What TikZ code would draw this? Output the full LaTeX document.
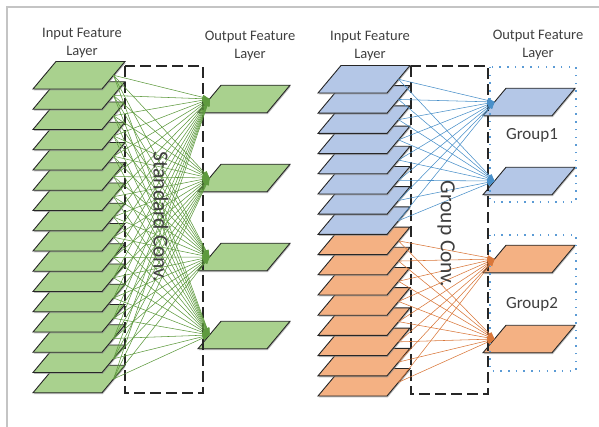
\documentclass[tikz,border=0pt]{standalone}
\usepackage{fontspec}
\setmainfont{Carlito}
\usetikzlibrary{arrows.meta}
\definecolor{lgreen}{HTML}{A9D18E}
\definecolor{lblue}{HTML}{B4C7E7}
\definecolor{lorange}{HTML}{F4B183}
\definecolor{gline}{HTML}{5E9A3E}
\definecolor{bline}{HTML}{4A90C9}
\definecolor{oline}{HTML}{D9773A}
\definecolor{edgec}{HTML}{262626}
\definecolor{txtc}{HTML}{3F3F3F}
\definecolor{framec}{HTML}{C4C4C4}
\definecolor{dotc}{HTML}{5B9BD5}
% one feature layer: name, centre x, centre y, fill colour
\newcommand\featlayer[4]{%
  \fill[layershadow] ({#2-45.3},{#3+15.2}) -- ++(69,0) -- ++(23,-27.5) -- ++(-69,0) -- cycle;
  \draw[layeredge, fill=#4] ({#2-46},{#3+13.75}) -- ++(69,0) -- ++(23,-27.5) -- ++(-69,0) -- cycle;
  \coordinate (#1-r) at ({#2+34.5},#3);
  \coordinate (#1-l) at ({#2-34.5},#3);
}
\begin{document}
\begin{tikzpicture}[x=1pt,y=-1pt,
  layeredge/.style={draw=edgec, line width=0.9pt, line join=miter},
  layershadow/.style={fill=black!45, opacity=0.6},
  convbox/.style={draw=edgec, line width=1.8pt, dash pattern=on 11pt off 5pt},
  groupbox/.style={draw=dotc, line width=1.5pt, dash pattern=on 1.5pt off 6.2pt},
  conn/.style={line width=0.55pt, -{Triangle[length=7pt,width=5pt]}},
  title/.style={text=txtc, font=\fontsize{14.5}{18}\selectfont, align=center},
  convlabel/.style={text=txtc, font=\fontsize{21.5}{24}\selectfont, rotate=-90},
  grouplabel/.style={text=txtc, font=\fontsize{17}{20}\selectfont}]
\useasboundingbox (0,0) rectangle (599,427);
% outer frame
\draw[framec, line width=1.2pt] (599,7) -- (7,7) -- (7,427);

% ---------- left panel: standard convolution ----------
\foreach \i in {15,14,...,0} {
  \featlayer{L\i}{79}{75.25+20.25*\i}{lgreen}
}
\featlayer{LO1}{244}{99}{lgreen}
\featlayer{LO2}{244}{178}{lgreen}
\featlayer{LO3}{244}{257}{lgreen}
\featlayer{LO4}{244}{335}{lgreen}
\draw[convbox] (125,66) rectangle (203,393);
\foreach \i in {0,...,15} {
  \foreach \j in {1,...,4} {
    \draw[conn, gline] (L\i-r) -- (LO\j-l);
  }
}
\node[convlabel] (sc) at (161,217) {Standard Conv.};
\node[title] (t1) at (82,43) {Input Feature\\Layer};
\node[title] (t2) at (250,46) {Output Feature\\Layer};

% ---------- right panel: group convolution ----------
\foreach \i in {15,14,...,8} {
  \featlayer{R\i}{364}{79.25+20.2*\i}{lorange}
}
\foreach \i in {7,6,...,0} {
  \featlayer{R\i}{364}{79.25+20.2*\i}{lblue}
}
\featlayer{RO1}{529}{102}{lblue}
\featlayer{RO2}{529}{181}{lblue}
\featlayer{RO3}{529}{259}{lorange}
\featlayer{RO4}{529}{339}{lorange}
\draw[convbox] (411,66) rectangle (488,394);
\draw[groupbox] (490,67) rectangle (576,202);
\draw[groupbox] (490,235) rectangle (576,371);
\foreach \i in {0,...,7} {
  \foreach \j in {1,2} {
    \draw[conn, bline] (R\i-r) -- (RO\j-l);
  }
}
\foreach \i in {8,...,15} {
  \foreach \j in {3,4} {
    \draw[conn, oline] (R\i-r) -- (RO\j-l);
  }
}
\node[convlabel] (gc) at (446,234) {Group Conv.};
\node[grouplabel] (g1) at (532,135) {Group1};
\node[grouplabel] (g2) at (532,304) {Group2};
\node[title] (t3) at (370,46) {Input Feature\\Layer};
\node[title] (t4) at (538,45) {Output Feature\\Layer};
\end{tikzpicture}
\end{document}
